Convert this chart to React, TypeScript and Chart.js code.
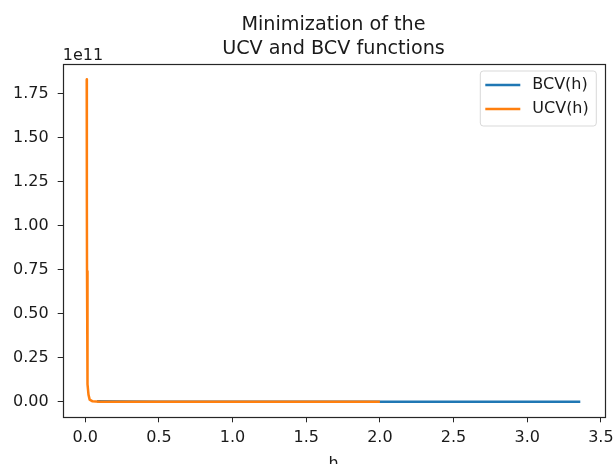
import React, { useEffect, useRef } from "react";
import { Chart, registerables } from "chart.js";

Chart.register(...registerables);

// ---- data ----
const titleLines = ["Minimization of the", "UCV and BCV functions"];
const seriesLabels = ["BCV(h)", "UCV(h)"];
const bcvH = [0.08, 0.25, 0.5, 0.75, 1.0, 1.5, 2.0, 2.5, 3.0, 3.36];
const bcvValues = [2.0e8, 5.0e7, 2.0e7, 1.0e7, 6.0e6, 3.0e6, 2.0e6, 1.5e6, 1.2e6, 1.0e6];
const ucvH = [0.01, 0.011, 0.012, 0.013, 0.015, 0.018, 0.022, 0.03, 0.05, 0.1, 0.25, 0.5, 1.0, 1.5, 2.0];
const ucvValues = [1.83e11, 1.13e11, 0.74e11, 0.49e11, 0.24e11, 0.1e11, 0.04e11, 0.012e11, 0.002e11, 3.0e7, 5.0e6, 2.0e6, 1.0e6, 8.0e5, 7.0e5];
const xTicks = [0, 0.5, 1.0, 1.5, 2.0, 2.5, 3.0, 3.5];
const yTicks = [0, 0.25e11, 0.5e11, 0.75e11, 1.0e11, 1.25e11, 1.5e11, 1.75e11];
const yExponentLabel = "1e11";
const xAxisLabel = "h";

const FONT = "'DejaVu Sans', sans-serif";
const TEXT = "#1a1a1a";

const frameAndText = {
  id: "frameAndText",
  afterDraw(chart: any) {
    const { ctx, chartArea } = chart;
    const { left, top, right, bottom } = chartArea;
    ctx.save();
    // axes frame
    ctx.strokeStyle = "#262626";
    ctx.lineWidth = 1.2;
    ctx.strokeRect(Math.round(left) + 0.5, Math.round(top) + 0.5, Math.round(right - left), Math.round(bottom - top));
    // title
    ctx.fillStyle = TEXT;
    ctx.font = `19.2px ${FONT}`;
    ctx.textAlign = "center";
    ctx.textBaseline = "alphabetic";
    const cx = (left + right) / 2;
    ctx.fillText(titleLines[0], cx, top - 34);
    ctx.fillText(titleLines[1], cx, top - 10);
    // offset text
    ctx.font = `16px ${FONT}`;
    ctx.textAlign = "left";
    ctx.fillText(yExponentLabel, left, top - 4);
    // x axis label
    ctx.textAlign = "center";
    ctx.fillText(xAxisLabel, cx, 468);
    // legend
    const lx = right - 124;
    const ly = top + 7;
    const lw = 116;
    const lh = 55;
    const r = 3;
    ctx.globalAlpha = 0.8;
    ctx.fillStyle = "#fff";
    ctx.strokeStyle = "#d0d0d0";
    ctx.lineWidth = 1;
    ctx.beginPath();
    ctx.moveTo(lx + r, ly);
    ctx.arcTo(lx + lw, ly, lx + lw, ly + lh, r);
    ctx.arcTo(lx + lw, ly + lh, lx, ly + lh, r);
    ctx.arcTo(lx, ly + lh, lx, ly, r);
    ctx.arcTo(lx, ly, lx + lw, ly, r);
    ctx.closePath();
    ctx.fill();
    ctx.stroke();
    ctx.globalAlpha = 1;
    const dsets = chart.data.datasets;
    ctx.font = `16px ${FONT}`;
    ctx.textAlign = "left";
    ctx.textBaseline = "middle";
    dsets.forEach((d: any, i: number) => {
      const yy = ly + 14 + i * 24;
      ctx.strokeStyle = d.borderColor;
      ctx.lineWidth = 2.5;
      ctx.beginPath();
      ctx.moveTo(lx + 5, yy);
      ctx.lineTo(lx + 40, yy);
      ctx.stroke();
      ctx.fillStyle = TEXT;
      ctx.fillText(d.label, lx + 52, yy);
    });
    ctx.restore();
  },
};

export default function App() {
  const ref = useRef<HTMLCanvasElement | null>(null);
  useEffect(() => {
    if (!ref.current) return;
    const chart = new Chart(ref.current, {
      type: "line",
      data: {
        datasets: [
          {
            label: seriesLabels[0],
            data: bcvH.map((h, i) => ({ x: h, y: bcvValues[i] })),
            borderColor: "#1f77b4",
            backgroundColor: "#1f77b4",
            borderWidth: 2.5,
            borderJoinStyle: "round",
            pointRadius: 0,
            tension: 0,
            order: 2,
          },
          {
            label: seriesLabels[1],
            data: ucvH.map((h, i) => ({ x: h, y: ucvValues[i] })),
            borderColor: "#ff7f0e",
            backgroundColor: "#ff7f0e",
            borderWidth: 2.5,
            borderJoinStyle: "round",
            pointRadius: 0,
            tension: 0,
            order: 1,
          },
        ],
      },
      options: {
        animation: false,
        responsive: false,
        maintainAspectRatio: false,
        layout: { padding: { left: 0, top: 64, right: 9.7, bottom: 0 } },
        plugins: {
          legend: { display: false },
          title: { display: false },
          tooltip: { enabled: false },
        },
        scales: {
          x: {
            type: "linear",
            min: -0.153,
            max: 3.523,
            afterBuildTicks: (s: any) => {
              s.ticks = xTicks.map((v) => ({ value: v }));
            },
            afterFit: (s: any) => {
              s.height = 46.7;
              s.paddingLeft = 0;
              s.paddingRight = 0;
            },
            grid: {
              display: true,
              drawOnChartArea: false,
              drawTicks: true,
              tickLength: 5,
              color: "#262626",
            },
            border: { display: false },
            ticks: {
              color: TEXT,
              padding: 6,
              maxRotation: 0,
              autoSkip: false,
              font: { family: FONT, size: 16 },
              callback: (v: any) => Number(v).toFixed(1),
            },
          },
          y: {
            type: "linear",
            min: -0.0885e11,
            max: 1.917e11,
            afterBuildTicks: (s: any) => {
              s.ticks = yTicks.map((v) => ({ value: v }));
            },
            afterFit: (s: any) => {
              s.width = 62.7;
              s.paddingTop = 0;
              s.paddingBottom = 0;
            },
            grid: {
              display: true,
              drawOnChartArea: false,
              drawTicks: true,
              tickLength: 5,
              color: "#262626",
            },
            border: { display: false },
            ticks: {
              color: TEXT,
              padding: 9,
              autoSkip: false,
              font: { family: FONT, size: 16 },
              callback: (v: any) => (Number(v) / 1e11).toFixed(2),
            },
          },
        },
      },
      plugins: [frameAndText],
    });
    return () => chart.destroy();
  }, []);
  return (
    <div style={{ position: "absolute", left: 0, top: 0, width: 614, height: 464, background: "#fff" }}>
      <canvas ref={ref} width={614} height={464} style={{ width: 614, height: 464 }} />
    </div>
  );
}
